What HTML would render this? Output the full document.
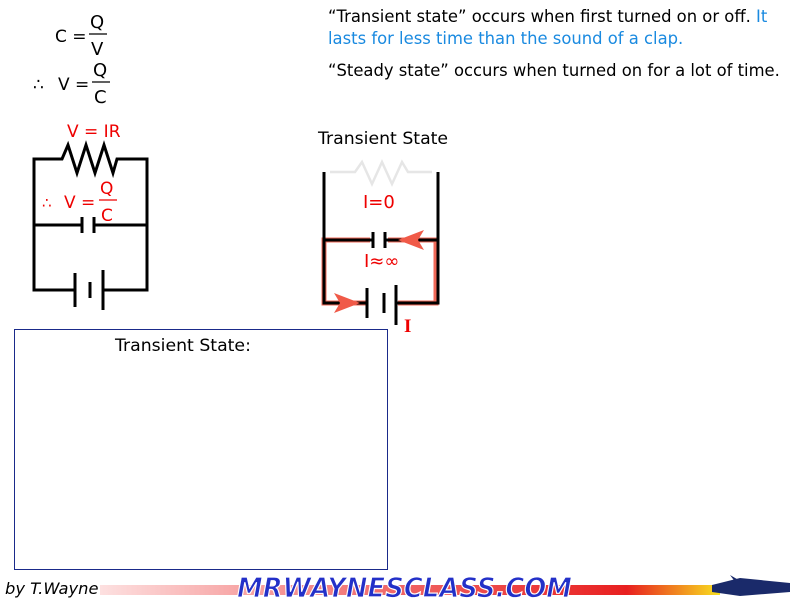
<!DOCTYPE html>
<html><head><style>
body{margin:0;width:800px;height:600px;background:#fff;position:relative;overflow:hidden;font-family:"DejaVu Sans","Liberation Sans",sans-serif}
.t{position:absolute;white-space:nowrap}
</style></head><body>
<svg width="800" height="600" style="position:absolute;left:0;top:0" font-family="DejaVu Sans, Liberation Sans, sans-serif">
<defs><linearGradient id="g" x1="0" x2="1"><stop offset="0" stop-color="#fde0e0"/><stop offset="0.5" stop-color="#f06060"/><stop offset="0.85" stop-color="#e82020"/><stop offset="1" stop-color="#f8e020"/></linearGradient></defs>
<g font-size="17" fill="#000">
<text x="55" y="42">C =</text><text x="90" y="28" font-size="18">Q</text><line x1="89" y1="34" x2="107" y2="34" stroke="#000" stroke-width="1.3"/><text x="91" y="55" font-size="18">V</text>
<text x="33" y="90">∴</text><text x="58" y="90">V =</text><text x="93" y="76" font-size="18">Q</text><line x1="92" y1="82" x2="110" y2="82" stroke="#000" stroke-width="1.3"/><text x="94" y="103" font-size="18">C</text>
</g>
<g stroke="#000" stroke-width="3" fill="none">
<polyline points="34,225 34,159 62,159 68,145 77,173 86,145 95,173 104,145 113,173 117,159 147,159 147,225"/>
<polyline points="34,225 34,290 75,290"/><polyline points="104,290 147,290 147,225"/>
<line x1="34" y1="225" x2="82" y2="225"/><line x1="94" y1="225" x2="147" y2="225"/>
<line x1="82" y1="217" x2="82" y2="233"/><line x1="94" y1="217" x2="94" y2="233"/>
<line x1="75" y1="273" x2="75" y2="307"/><line x1="103" y1="270" x2="103" y2="310"/><line x1="90" y1="282" x2="90" y2="298"/>
</g>
<g fill="#e00" font-size="17"><text x="67" y="137">V = IR</text>
<text x="42" y="208" font-size="15">∴</text><text x="64" y="208">V =</text><text x="100" y="194">Q</text><line x1="99" y1="200" x2="117" y2="200" stroke="#e00" stroke-width="1.3"/><text x="101" y="221">C</text></g>
<polyline points="330,172 355,172 362,162 372,184 382,162 392,184 402,162 408,172 432,172" stroke="#e6e6e6" stroke-width="2.5" fill="none"/>
<g stroke="#ef5a48" stroke-width="5" fill="none" opacity="0.9"><polyline points="370,240 324,240 324,303 366,303"/><polyline points="388,240 436,240 436,303 398,303"/></g>
<g stroke="#000" stroke-width="3" fill="none">
<polyline points="324,172 324,303 367,303"/><polyline points="396,303 438,303 438,172"/>
<line x1="324" y1="240" x2="373" y2="240"/><line x1="385" y1="240" x2="438" y2="240"/>
<line x1="373" y1="232" x2="373" y2="248"/><line x1="385" y1="232" x2="385" y2="248"/>
<line x1="367" y1="288" x2="367" y2="318"/><line x1="396" y1="285" x2="396" y2="325"/><line x1="384" y1="293" x2="384" y2="313"/>
</g>
<polygon points="398,240 424,230 418,240 424,250" fill="#f05a48"/>
<polygon points="360,303 334,293 340,303 334,313" fill="#f05a48"/>
<text x="318" y="144" font-size="17.3" fill="#000">Transient State</text>
<g fill="#e00"><text x="363" y="208" font-size="18">I=0</text>
<text x="364" y="267" font-size="18">I≈∞</text>
<text x="404" y="332" font-size="19" font-weight="bold" font-family="Liberation Serif, serif">I</text></g>
<rect x="14.5" y="329.5" width="373" height="240" fill="none" stroke="#1a2a8a" stroke-width="1"/>
<text x="115" y="351" font-size="17.3" fill="#000">Transient State:</text>
<rect x="100" y="585" width="620" height="10" fill="url(#g)"/>
<text x="5" y="594" font-size="16.3" font-style="italic" fill="#000">by T.Wayne</text>
<text x="237" y="597" font-size="28" font-weight="bold" font-style="italic" fill="#2330c8" stroke="#fff" stroke-width="1.2" textLength="335" lengthAdjust="spacingAndGlyphs" font-family="DejaVu Sans, sans-serif">MRWAYNESCLASS.COM</text>
<polygon points="712,585 740,578 790,583 790,592 740,596 712,592" fill="#1a2a6a"/>
<polygon points="730,575 742,582 736,583" fill="#1a2a6a"/>
</svg>
<div class="t" style="left:328px;top:6px;font-size:16.4px;line-height:22px">“Transient state” occurs when first turned on or off. <span style="color:#1a8ae0">It</span><br><span style="color:#1a8ae0">lasts for less time than the sound of a clap.</span></div>
<div class="t" style="left:328px;top:60px;font-size:16.4px;line-height:22px">“Steady state” occurs when turned on for a lot of time.</div>
</body></html>
